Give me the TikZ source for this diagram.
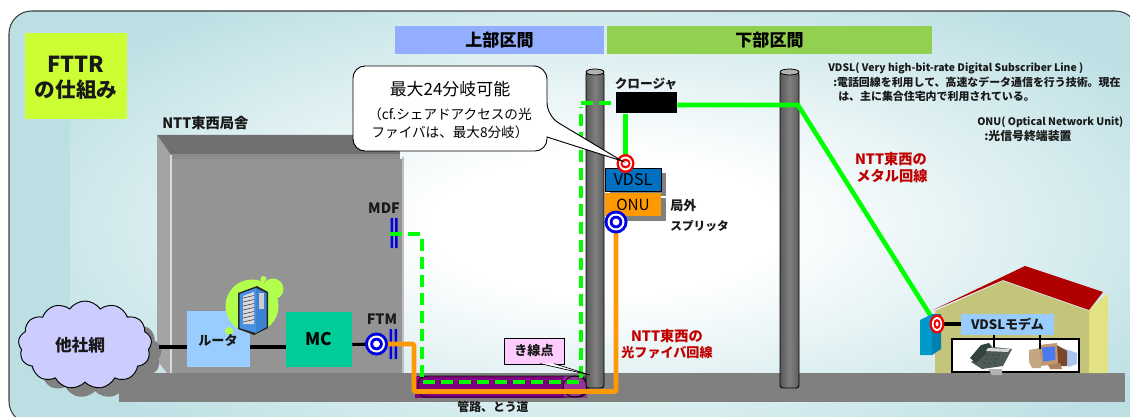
\documentclass[tikz,border=0pt]{standalone}
\usepackage{fontspec}
\setmainfont{Noto Sans CJK JP}
\usetikzlibrary{shapes.symbols,calc}
\definecolor{panelc}{HTML}{BBDFE3}
\definecolor{fibre}{HTML}{FF9900}
\definecolor{metal}{HTML}{00FF00}
\definecolor{redtxt}{HTML}{C00000}
\definecolor{titlec}{HTML}{CCFF33}
\definecolor{upperc}{HTML}{94AEFF}
\definecolor{lowerc}{HTML}{92D050}
\definecolor{cloudc}{HTML}{CCCCFF}
\definecolor{routerc}{HTML}{99CCFF}
\definecolor{mcc}{HTML}{00CC99}
\definecolor{halo}{HTML}{B2FF4D}
\definecolor{srvA}{HTML}{4A90E2}
\definecolor{srvB}{HTML}{3C82D2}
\definecolor{purpA}{HTML}{800080}
\definecolor{purpB}{HTML}{993399}
\definecolor{vdslc}{HTML}{0070C0}
\definecolor{kisenc}{HTML}{FFCCFF}
\definecolor{wallA}{HTML}{E2E285}
\definecolor{wallB}{HTML}{C4C47A}
\definecolor{roofc}{HTML}{B00000}
\definecolor{phA}{HTML}{4A5C54}
\definecolor{phB}{HTML}{32423C}
\definecolor{pcA}{HTML}{AAC4EE}
\definecolor{pcB}{HTML}{C4A682}
\definecolor{pcC}{HTML}{7A4828}
\definecolor{pcD}{HTML}{C4986E}
\definecolor{pcE}{HTML}{4A7AF0}
\definecolor{pcF}{HTML}{AA8260}
\definecolor{boxA}{HTML}{0099CC}
\definecolor{boxB}{HTML}{0080B0}
\pgfdeclareradialshading{panelshade}{\pgfpoint{0bp}{0bp}}{color(0bp)=(white); color(8bp)=(white); color(31bp)=(panelc); color(100bp)=(panelc)}
\pgfdeclarehorizontalshading{poleshade}{100bp}{color(0bp)=(black!82); color(25bp)=(black!65); color(50bp)=(black!50); color(72bp)=(black!62); color(100bp)=(black!95)}
\tikzset{
  x=0.75pt,y=-0.75pt,
  lbl/.style={inner sep=0pt,font=\bfseries\fontsize{9.8}{11}\selectfont,text=black!90},
  lblb/.style={lbl,font=\bfseries\fontsize{10.7}{12}\selectfont},
  note/.style={inner sep=0pt,anchor=west,font=\bfseries\fontsize{8.2}{10}\selectfont,text=black!90},
  bar/.style={draw=none,inner sep=0pt,font=\bfseries\fontsize{12.8}{14}\selectfont},
  fbox/.style={draw=none,inner sep=0pt,font=\bfseries\fontsize{10}{12}\selectfont},
  wire/.style={line width=2.3pt,black},
  fibreline/.style={line width=3.6pt,fibre,rounded corners=1.5pt},
  metalline/.style={line width=3.4pt,metal},
  dashline/.style={line width=3pt,metal,dash pattern=on 9pt off 4.5pt},
  port/.style={fill=blue!90!black,draw=none},
  pole/.style={draw=black,line width=0.7pt,shading=poleshade,rounded corners=2pt},
  polecap/.style={draw=black,line width=0.6pt,fill=black!30},
}
\newcommand{\bullseye}[1]{%
  \fill[blue!90!black] (#1) circle (11.5);
  \fill[white] (#1) circle (8.5);
  \fill[blue!90!black] (#1) circle (6.3);
  \fill[white] (#1) circle (3.4);
}
\newcommand{\redeye}[2]{%
  \fill[red!95!black] (#1) ellipse (#2 and 9.5);
  \fill[white] (#1) ellipse ({#2-2.4} and 7);
  \fill[red!95!black] (#1) ellipse ({#2-4} and 5);
  \fill[white] (#1) ellipse ({#2-6} and 2.4);
}
\begin{document}
\begin{tikzpicture}
\useasboundingbox (0,0) rectangle (1130,417);
\fill[white] (0,0) rectangle (1130,417);
\begin{scope}
  \clip (0,0) rectangle (1130,417);
  \begin{scope}
    \clip[rounded corners=17pt] (9,11) rectangle (1138,424);
    \fill[panelc] (0,0) rectangle (1140,430);
    \shade[shading=panelshade] (70,5) rectangle (1140,445);
  \end{scope}
  \draw[black!75,line width=0.8pt,rounded corners=17pt] (9,11) rectangle (1138,424);

  % title
  \fill[titlec] (25,33) rectangle (127,119);
  \node[lbl,font=\bfseries\fontsize{16.5}{18}\selectfont] (title1) at (76,64) {FTTR};
  \node[lbl,font=\bfseries\fontsize{15.5}{18}\selectfont] (title2) at (76,90) {の仕組み};

  % section bars
  \node[bar,fill=upperc,minimum width=157pt,minimum height=21pt] (upper) at (499.5,40) {上部区間};
  \node[bar,fill=lowerc,minimum width=243.75pt,minimum height=21pt] (lower) at (769.5,40) {下部区間};

  % building
  \node[lbl,anchor=west,font=\bfseries\fontsize{10.7}{12}\selectfont] (bldg) at (162,123) {NTT東西局舎};
  \fill[black!56] (157,135) -- (397,135) -- (400,154) -- (170,154) -- cycle;
  \fill[black!45] (170,154) rectangle (400,159);
  \fill[black!36] (157,135) -- (170,154) -- (170,373) -- (167,373) -- (157,360) -- cycle;
  \fill[black!15] (170,155) rectangle (171.5,373);
  \fill[black!42] (172,159) rectangle (402,373);
  \fill[black!25] (402,157) rectangle (404,373);

  % ground
  \fill[black!50] (119,373) rectangle (1125,402);

  % cloud
  \node[cloud,cloud puffs=13,cloud puff arc=110,draw=none,fill=black!50,minimum width=100pt,minimum height=66pt,aspect=1.6,inner sep=0pt] (cloudshadow) at (95,354) {};
  \node[cloud,cloud puffs=13,cloud puff arc=110,draw=black,line width=0.7pt,fill=cloudc,minimum width=100pt,minimum height=66pt,aspect=1.6,inner sep=0pt] (cloudnet) at (85,345) {};
  \node[lbl,font=\bfseries\fontsize{12.5}{14}\selectfont] (cloudtxt) at (80,345) {他社網};

  % equipment
  \node[fbox,fill=routerc,minimum width=47.25pt,minimum height=42pt] (router) at (218.5,339) {};
  \node[fbox,fill=mcc,minimum width=49.5pt,minimum height=41.25pt,font=\bfseries\fontsize{13}{14}\selectfont] (mc) at (319,339.5) {MC};
  \coordinate (cloudend) at (159,347);
  \draw[wire] (cloudend) -- (cloudend -| router.west);
  \draw[wire] ($(router.east)+(0,8)$) -- ($(mc.west)+(0,7.5)$);

  % server icon
  \fill[halo] (252,306) circle (26.5) (273,289) circle (10.5) (263.5,279) circle (3) (229,331) circle (4);
  \fill[black!85] (238,293) -- (257,286) -- (268,292) -- (268,328) -- (254,335) -- (238,329) -- cycle;
  \fill[srvA] (239.5,294) -- (256,288) -- (256,333) -- (239.5,328) -- cycle;
  \fill[srvB] (256,288) -- (266.5,293) -- (266.5,327) -- (256,333) -- cycle;
  \fill[white!85!black] (243,296) -- (254,292) -- (254,324) -- (243,324) -- cycle;
  \foreach \yy in {298,302,306,310,314,318,322}{\draw[black!70,line width=0.5pt] (243,\yy) -- (254,\yy-2.5);}
  \fill[black!20] (259,293) rectangle (264,309);
  \node[lbl] (routertxt) at (218,340) {ルータ};

  % FTM / MDF
  \node[lblb] (ftmlbl) at (382,319) {FTM};
  \node[lblb] (mdflbl) at (384,208) {MDF};
  \fill[port] (389.5,329) rectangle (392,359) (394.5,329) rectangle (397,359);
  \fill[port] (390.5,218) rectangle (393,248) (395,218) rectangle (397.5,248);
  \coordinate (ftm) at (376.5,344);
  \coordinate (mdf) at (390,234);
  \draw[wire] ($(mc.east)+(0,5)$) -- (ftm);

  % duct
  \fill[purpA] (415,376) rectangle (564,398);
  \fill[purpB] (564,376) rectangle (587,398);
  \draw[black,line width=0.6pt,rounded corners=6pt] (418,376) rectangle (587,397);
  \draw[black,line width=0.6pt] (575,386.5) ellipse (12 and 10.5);
  \node[lbl,font=\bfseries\fontsize{8.9}{11}\selectfont] (duct) at (493,406.5) {管路、とう道};

  % poles
  \shade[pole] (586,72) rectangle (604,388);
  \draw[polecap] (595,72) ellipse (9 and 3);
  \shade[pole] (780,72) rectangle (799,388);
  \draw[polecap] (789.5,72) ellipse (9.5 and 3);

  % closure
  \node[fbox,fill=black,minimum width=45.75pt,minimum height=15.75pt] (closure) at (646.5,103) {};
  \node[lbl,font=\bfseries\fontsize{9.5}{11}\selectfont] (closurelbl) at (646,84) {クロージャ};

  % dashed optical
  \coordinate (d1) at (421.5,234);
  \coordinate (d1b) at (422,239);
  \coordinate (d2) at (422,382);
  \coordinate (d3) at (581,382);
  \coordinate (d4) at (581,107);
  \coordinate (d5) at (581,103.5);
  \draw[dashline] (mdf) -- (d1);
  \draw[dashline] (d1b) -- (d2) -- (d3) -- (d4);
  \draw[dashline] (d5) -- (closure.west |- d5);

  % VDSL & ONU
  \fill[black!50] (610,173) rectangle (666,196);
  \fill[black!50] (610,198) rectangle (666,221);
  \node[draw=black,line width=0.7pt,fill=vdslc,minimum width=42pt,minimum height=17.25pt,inner sep=0pt,font=\fontsize{12}{13}\selectfont,text=black] (vdsl) at (633,179.5) {VDSL};
  \node[fill=fibre,minimum width=42pt,minimum height=17.25pt,inner sep=0pt,font=\fontsize{11.5}{13}\selectfont,text=black] (onu) at (633,204.5) {ONU};

  % metal lines
  \coordinate (bend) at (798,105);
  \coordinate (wallend) at (932,318);
  \draw[metalline,line join=miter] (closure.east |- bend) -- (bend) -- (wallend);
  \coordinate (redA) at (625.5,163.5);
  \draw[metalline] (closure.south -| redA) -- (redA);

  % fibre line
  \coordinate (bluA) at (616,222);
  \draw[fibreline] (ftm) -- (414,344) -- (414,391.5) -- (616,391.5) -- (bluA);
  \bullseye{ftm}
  \bullseye{bluA}

  % callout
  \redeye{redA}{9}
  \draw[black,line width=0.7pt,fill=white,rounded corners=10pt] (353,66) -- (547,66) -- (547,116) [sharp corners] -- (622,161) -- (547,137) [rounded corners=9pt] -- (547,151) -- (353,151) -- cycle;
  \node[inner sep=0pt,font=\fontsize{12.7}{14}\selectfont,text=black] (call1) at (450,89) {最大24分岐可能};
  \node[inner sep=0pt,font=\fontsize{10.2}{12}\selectfont,text=black] (call2) at (450,114) {（cf.シェアドアクセスの光};
  \node[inner sep=0pt,font=\fontsize{10.2}{12}\selectfont,text=black] (call3) at (450,132) {ファイバは、最大8分岐）};

  % splitter label
  \node[lbl,anchor=west] (spl1) at (670,206) {局外};
  \node[lbl,anchor=west,font=\bfseries\fontsize{8.8}{11}\selectfont] (spl2) at (670,226) {スプリッタ};

  % kisen point
  \node[lbl,draw=black,line width=0.6pt,fill=kisenc,minimum width=45pt,minimum height=19.5pt] (kisen) at (534,351) {き線点};
  \coordinate (kisentip) at (590,375);
  \draw[black,line width=0.5pt,fill=white] (540,363.6) -- (kisentip) -- (554,363.6);
  \node[lblb,text=redtxt] (optA) at (667,336) {NTT東西の};
  \node[lbl,text=redtxt] (optB) at (667,353) {光ファイバ回線};
  \node[lblb,text=redtxt] (metA) at (891,159) {NTT東西の};
  \node[lblb,text=redtxt] (metB) at (892,176) {メタル回線};

  % notes
  \node[note,font=\bfseries\fontsize{7.8}{10}\selectfont] (n1) at (828,68) {VDSL( Very high-bit-rate Digital Subscriber Line )};
  \node[note] (n2) at (833,82) {:電話回線を利用して、高速なデータ通信を行う技術。現在};
  \node[note] (n3) at (838,96) {は、主に集合住宅内で利用されている。};
  \node[note,font=\bfseries\fontsize{7.8}{10}\selectfont] (n4) at (977,122) {ONU( Optical Network Unit)};
  \node[note,font=\bfseries\fontsize{8.9}{10}\selectfont] (n5) at (984,136) {:光信号終端装置};

  % house
  \fill[wallA] (1089,310) -- (1108,293) -- (1108,373) -- (1089,373) -- cycle;
  \fill[wallB] (935,311) -- (1003,281) -- (1089,311) -- (1089,373) -- (935,373) -- cycle;
  \fill[roofc] (933,310) -- (1003,280) -- (1089,310) -- (1103,292) -- (1025,266) -- cycle;
  \node[fbox,fill=routerc,minimum width=70pt,minimum height=15.75pt,font=\bfseries\fontsize{9.8}{11}\selectfont,text=black!90] (modem) at (1007.5,324.5) {VDSLモデム};
  \node[draw=black,line width=0.8pt,fill=white,minimum width=95.25pt,minimum height=24.75pt,inner sep=0pt] (room) at (1015.5,355.5) {};
  % phone
  \fill[black!30] (988,369) -- (1002,369) -- (1002,375) -- (992,375) -- cycle;
  \fill[phA] (971,362) -- (993,347) -- (1012,349) -- (1003,366) -- (982,369) -- cycle;
  \fill[phB] (970,358) -- (981,345) -- (989,343) -- (992,347) -- (976,363) -- cycle;
  \fill[black!15] (988,348) -- (1010,349) -- (1008,352) -- (986,351) -- cycle;
  \foreach \a/\b in {987/354,992/354,997/354,985/358,990/358,995/358,983/362,988/362,993/362}{\fill[black!70] (\a,\b) rectangle (\a+3,\b+2);}
  % computer
  \fill[pcA] (1062,348) -- (1077,353) -- (1077,364) -- (1068,367) -- cycle;
  \fill[pcC] (1055,344) -- (1067,351) -- (1067,366) -- (1056,366) -- cycle;
  \fill[pcB] (1029,350) -- (1040,348) -- (1041,368) -- (1032,368) -- (1029,362) -- cycle;
  \fill[pcD] (1039,345) -- (1057,343) -- (1058,364) -- (1041,366) -- cycle;
  \fill[pcE] (1042,347.5) -- (1055,346.5) -- (1055.5,360) -- (1043,361.5) -- cycle;
  \fill[pcF] (1048,365) -- (1060,363) -- (1062,369) -- (1050,369) -- cycle;
  % links
  \coordinate (phonetop) at (994,347);
  \coordinate (pctop) at (1040,349);
  \draw[wire,line width=2pt] (modem.south -| phonetop) -- (phonetop);
  \draw[wire,line width=2pt] (modem.south -| pctop) -- (pctop);
  % wall box
  \fill[boxA] (920,320) -- (932,314) -- (932,355) -- (920,355) -- cycle;
  \fill[boxB] (932,314) -- (941,314) -- (941,349) -- (932,355) -- cycle;
  \coordinate (redB) at (937,324);
  \draw[wire] (redB) -- (modem.west |- redB);
  \redeye{redB}{7.5}
\end{scope}
\end{tikzpicture}
\end{document}
